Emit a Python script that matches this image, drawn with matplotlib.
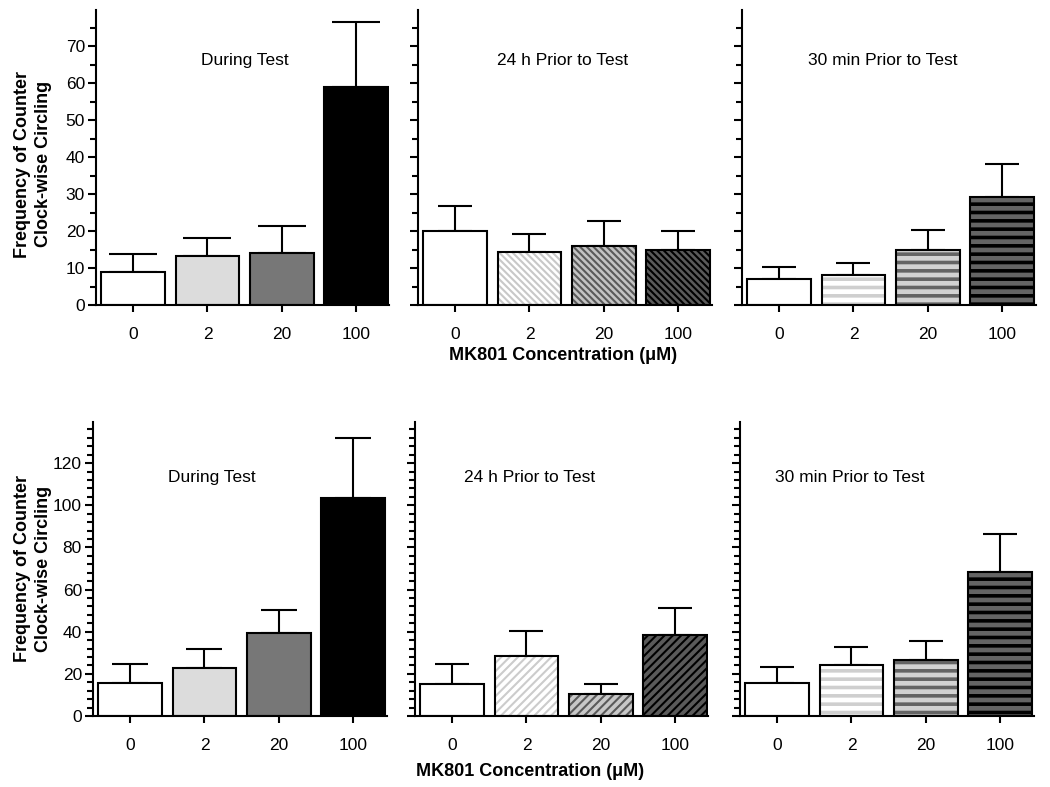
import matplotlib
matplotlib.use("Agg")
import matplotlib.pyplot as plt
from matplotlib.ticker import MultipleLocator

plt.rcParams['font.family'] = ['Liberation Sans', 'DejaVu Sans']
plt.rcParams['font.size'] = 12.5

# data (mean and upper error)
conc_labels = ["0", "2", "20", "100"]

top_during = [9.0, 13.3, 14.0, 58.9]
top_during_err = [4.7, 4.8, 7.4, 17.7]
top_24h = [19.9, 14.3, 15.9, 14.8]
top_24h_err = [7.0, 4.9, 6.9, 5.1]
top_30min = [7.0, 8.1, 14.8, 29.2]
top_30min_err = [3.2, 3.3, 5.6, 9.0]

bot_during = [15.8, 22.6, 39.2, 103.6]
bot_during_err = [8.7, 9.4, 11.3, 28.3]
bot_24h = [15.0, 28.3, 10.6, 38.4]
bot_24h_err = [9.5, 12.1, 4.4, 12.8]
bot_30min = [15.6, 24.0, 26.7, 68.4]
bot_30min_err = [7.8, 8.8, 8.8, 17.9]

top_yticks = [0, 10, 20, 30, 40, 50, 60, 70]
bot_yticks = [0, 20, 40, 60, 80, 100, 120]

panel_titles = ["During Test", "24 h Prior to Test", "30 min Prior to Test"]

# (face colour, hatch, hatch colour)
style_during = [("white", None, None), ("#dcdcdc", None, None),
                ("#777777", None, None), ("black", None, None)]
style_24h_top = [("white", None, None), ("white", "\\\\\\\\\\", "#c8c8c8"),
                 ("#c4c4c4", "\\\\\\\\\\", "#5a5a5a"), ("#5a5a5a", "\\\\\\\\\\", "black")]
style_24h_bot = [("white", None, None), ("white", "////", "#cccccc"),
                 ("#c8c8c8", "////", "#5a5a5a"), ("#5a5a5a", "////", "black")]
style_30min = [("white", None, None), ("white", "--", "#cfcfcf"),
               ("#d2d2d2", "--", "#646464"), ("#646464", "--", "black")]

W, H = 1050, 787
fig = plt.figure(figsize=(W / 100, H / 100), dpi=100)


def px_axes(x0, y_top, y_bot, width=293.5):
    return fig.add_axes([x0 / W, 1 - y_bot / H, width / W, (y_bot - y_top) / H])


def draw_panel(ax, vals, errs, styles, ymax, yticks, minor, title, tx, ty, cap):
    xs = list(range(len(vals)))
    for x, v, (fc, hatch, hc) in zip(xs, vals, styles):
        if hatch:
            lw = 2.6 if "-" in hatch else 1.5
            with plt.rc_context({"hatch.linewidth": lw, "hatch.color": hc}):
                b = ax.bar(x, v, width=0.86, color=fc, hatch=hatch,
                           edgecolor=hc, linewidth=0, zorder=2)
                for p in b:
                    if hasattr(p, "set_hatch_linewidth"):
                        p.set_hatch_linewidth(lw)
        else:
            ax.bar(x, v, width=0.86, color=fc, linewidth=0, zorder=2)
        ax.bar(x, v, width=0.86, facecolor="none", edgecolor="black",
               linewidth=1.5, zorder=3)
    ax.errorbar(xs, vals, yerr=[[0] * len(vals), errs], fmt="none",
                ecolor="black", elinewidth=1.5, capsize=cap, capthick=1.5, zorder=1)
    ax.set_xlim(-0.5, 3.45)
    ax.set_ylim(0, ymax)
    ax.set_xticks(xs)
    ax.set_xticklabels(conc_labels)
    ax.set_yticks(yticks)
    ax.yaxis.set_minor_locator(MultipleLocator(minor))
    for s in ["top", "right"]:
        ax.spines[s].set_visible(False)
    for s in ["left", "bottom"]:
        ax.spines[s].set_linewidth(1.5)
    ax.tick_params(axis="x", length=5, width=1.5, pad=11, labelsize=12.5)
    ax.tick_params(axis="y", which="major", length=6, width=1.5, pad=2, labelsize=12.5)
    ax.tick_params(axis="y", which="minor", length=4, width=1.5)
    ax.text(tx, ty, title, transform=ax.transAxes, ha="center", va="center",
            fontsize=12.5)
    return ax


top_sets = [(top_during, top_during_err, style_during),
            (top_24h, top_24h_err, style_24h_top),
            (top_30min, top_30min_err, style_30min)]
bot_sets = [(bot_during, bot_during_err, style_during),
            (bot_24h, bot_24h_err, style_24h_bot),
            (bot_30min, bot_30min_err, style_30min)]

top_x = [96, 418, 742]
bot_x = [93, 415, 740]
top_tx = [0.508, 0.494, 0.48]
bot_tx = [0.405, 0.39, 0.375]
top_caps = [17.5, 12, 12]
bot_caps = [13, 12, 12]

for i, (v, e, st) in enumerate(top_sets):
    ax = px_axes(top_x[i], 10, 305)
    draw_panel(ax, v, e, st, 79.8, top_yticks, 5, panel_titles[i], top_tx[i], 0.83, top_caps[i])
    if i > 0:
        ax.set_yticklabels([])

for i, (v, e, st) in enumerate(bot_sets):
    ax = px_axes(bot_x[i], 422, 716)
    draw_panel(ax, v, e, st, 139.5, bot_yticks, 4, panel_titles[i], bot_tx[i], 0.81, bot_caps[i])
    if i > 0:
        ax.set_yticklabels([])

ylab = "Frequency of Counter\nClock-wise Circling"
fig.text(33 / W, 1 - 164 / H, ylab, rotation=90, ha="center", va="center",
         fontsize=13, fontweight="bold", linespacing=1.25)
fig.text(33 / W, 1 - 569 / H, ylab, rotation=90, ha="center", va="center",
         fontsize=13, fontweight="bold", linespacing=1.25)

xlab = "MK801 Concentration (\u03bcM)"
fig.text(563 / W, 1 - 356 / H, xlab, ha="center", va="center",
         fontsize=13, fontweight="bold")
fig.text(530 / W, 1 - 771 / H, xlab, ha="center", va="center",
         fontsize=13, fontweight="bold")

fig.savefig("out.png", dpi=100)
